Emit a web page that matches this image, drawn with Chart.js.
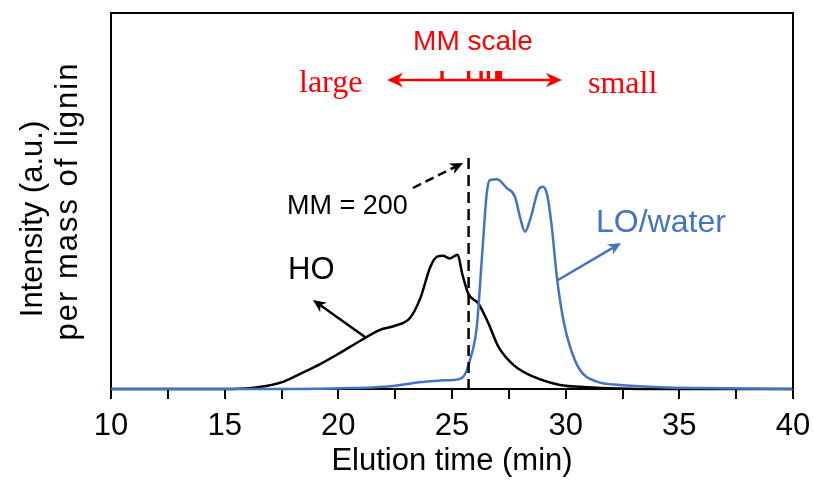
<!DOCTYPE html>
<html>
<head>
<meta charset="utf-8">
<script src="https://cdn.jsdelivr.net/npm/chart.js@4.4.1/dist/chart.umd.min.js"></script>
<style>
	body { margin: 0; background: #fff; }
	canvas { display: block; }
</style>
</head>
<body>
<canvas id="myChart" width="813" height="483"></canvas>
<script>
// HO curve (elution time min, intensity)
let hoTime = [10, 15, 16.1, 16.8, 17.6, 18.3, 19.2, 20.07, 20.95, 21.83, 22.49, 23.15, 23.6, 24.05, 24.35, 24.6, 24.9, 25.25, 25.45, 25.72, 26.16, 26.6, 27.04, 27.7, 28.58, 29.75, 30.93, 32.4, 34, 40];
let hoValue = [0, 0, 0.2, 0.8, 2.0, 4.0, 6.7, 9.7, 12.9, 15.9, 17.0, 19.1, 24.3, 32.9, 35.6, 35.8, 35.1, 36.1, 31.0, 25.6, 23.0, 17.7, 11.4, 6.5, 3.3, 1.1, 0.5, 0.15, 0, 0];

// LO/water curve
let loTime = [10, 18, 20.5, 22, 23.7, 24.5, 25.06, 25.5, 25.79, 26.09, 26.31, 26.53, 26.67, 26.97, 27.41, 27.77, 27.99, 28.21, 28.43, 28.8, 28.99, 29.17, 29.39, 29.61, 29.9, 30.19, 30.63, 31.37, 32.39, 34.15, 35.91, 40];
let loValue = [0, 0, 0.25, 0.6, 1.9, 2.3, 2.4, 3.3, 7.8, 16.7, 34.7, 52.7, 56.2, 56.4, 54.0, 51.7, 46.3, 42.3, 45.4, 53.5, 54.4, 52.6, 43.6, 30.2, 18.5, 11.4, 5.1, 2.0, 1.1, 0.5, 0.27, 0];

// MM standards on the scale, and the MM = 200 position
let mmMarkTimes = [24.56, 25.73, 26.28, 26.6, 26.97, 27.05, 27.13];
let mm200Time = 25.73;

let xTickLabels = [10, 15, 20, 25, 30, 35, 40];

const FONT = "'Liberation Sans', Arial, sans-serif";

function toPoints(xs, ys) {
	return xs.map((x, i) => ({ x: x, y: ys[i] }));
}

function drawArrow(ctx, x1, y1, x2, y2, color, dash, head) {
	const ang = Math.atan2(y2 - y1, x2 - x1);
	const len = head || 13;
	const c = Math.cos(ang), s = Math.sin(ang);
	ctx.save();
	ctx.strokeStyle = color;
	ctx.fillStyle = color;
	ctx.lineWidth = 2.5;
	ctx.setLineDash(dash || []);
	ctx.beginPath();
	ctx.moveTo(x1, y1);
	ctx.lineTo(x2 - c * len * 0.7, y2 - s * len * 0.7);
	ctx.stroke();
	ctx.setLineDash([]);
	ctx.beginPath();
	ctx.moveTo(x2, y2);
	ctx.lineTo(x2 - len * c + len * 0.45 * s, y2 - len * s - len * 0.45 * c);
	ctx.lineTo(x2 - len * 0.7 * c, y2 - len * 0.7 * s);
	ctx.lineTo(x2 - len * c - len * 0.45 * s, y2 - len * s + len * 0.45 * c);
	ctx.closePath();
	ctx.fill();
	ctx.restore();
}

function rotatedText(ctx, text, x, y) {
	ctx.save();
	ctx.translate(x, y);
	ctx.rotate(-Math.PI / 2);
	ctx.fillText(text, 0, 0);
	ctx.restore();
}

const notes = {
	id: "notes",
	afterDatasetsDraw(chart) {
		const ctx = chart.ctx;
		const a = chart.chartArea;
		const xs = chart.scales.x;

		// frame top + right
		ctx.save();
		ctx.strokeStyle = "#000";
		ctx.lineWidth = 2;
		ctx.beginPath();
		ctx.moveTo(a.left, a.top);
		ctx.lineTo(a.right, a.top);
		ctx.lineTo(a.right, a.bottom);
		ctx.stroke();

		// MM = 200 dashed line
		const xm = xs.getPixelForValue(mm200Time);
		ctx.lineWidth = 2.5;
		ctx.setLineDash([11, 6]);
		ctx.beginPath();
		ctx.moveTo(xm, 158);
		ctx.lineTo(xm, a.bottom);
		ctx.stroke();
		ctx.restore();

		drawArrow(ctx, 413, 188, 463, 163, "#000", [9, 5]);
		drawArrow(ctx, 365, 337, 313, 300, "#000");
		drawArrow(ctx, 558, 280, 621, 243, "#4472C4");

		ctx.save();
		ctx.textBaseline = "alphabetic";
		ctx.fillStyle = "#000";

		// y axis title, two lines
		ctx.textAlign = "center";
		ctx.font = "31px " + FONT;
		rotatedText(ctx, "Intensity (a.u.)", 42, 219);
		ctx.letterSpacing = "2px";
		rotatedText(ctx, "per mass of lignin", 77, 201);
		ctx.letterSpacing = "0px";
		ctx.textAlign = "left";

		ctx.font = "27px " + FONT;
		ctx.fillText("MM = 200", 287, 214);
		ctx.font = "31px " + FONT;
		ctx.fillText("HO", 288, 279);
		ctx.fillStyle = "#4472C4";
		ctx.font = "32px " + FONT;
		ctx.fillText("LO/water", 596, 232);

		// MM scale
		ctx.fillStyle = "#FF0000";
		ctx.font = "28px " + FONT;
		ctx.textAlign = "center";
		ctx.fillText("MM scale", 473, 50);
		ctx.textAlign = "left";
		ctx.font = "32px 'Liberation Serif', 'Times New Roman', serif";
		ctx.fillText("large", 299, 92);
		ctx.fillText("small", 588, 93);
		ctx.restore();

		drawArrow(ctx, 470, 80, 387, 80, "#FF0000", [], 16);
		drawArrow(ctx, 470, 80, 562, 80, "#FF0000", [], 16);
		ctx.save();
		ctx.fillStyle = "#FF0000";
		mmMarkTimes.forEach(t => {
			const px = xs.getPixelForValue(t);
			ctx.fillRect(px - 1.7, 71, 3.4, 9);
		});
		ctx.restore();
	}
};

function createChart() {
	const ctx = document.getElementById("myChart").getContext("2d");
	const myChart = new Chart(ctx, {
		type: "line",
		data: {
			datasets: [
				{
					label: "LO/water",
					data: toPoints(loTime, loValue),
					borderColor: "#4472C4",
					borderWidth: 2.5,
					pointRadius: 0,
					cubicInterpolationMode: "monotone",
					clip: 5,
				},
				{
					label: "HO",
					data: toPoints(hoTime, hoValue),
					borderColor: "#000",
					borderWidth: 2.5,
					pointRadius: 0,
					cubicInterpolationMode: "monotone",
					clip: 5,
				},
			],
		},
		options: {
			responsive: false,
			animation: false,
			layout: {
				padding: { top: 13, right: 20, left: 0, bottom: 0 },
			},
			plugins: {
				legend: { display: false },
				tooltip: { enabled: false },
			},
			scales: {
				x: {
					type: "linear",
					min: 10,
					max: 40,
					afterBuildTicks: (s) => {
						let t = [];
						for (let v = 10; v <= 40; v += 2.5) t.push({ value: v });
						s.ticks = t;
					},
					afterFit: (s) => {
						s.height = 94;
						s.paddingLeft = 0;
						s.paddingRight = 0;
					},
					ticks: {
						autoSkip: false,
						maxRotation: 0,
						padding: 9,
						color: "#000",
						font: { size: 31, family: FONT },
						callback: (v) => xTickLabels.includes(v) ? String(v) : "",
					},
					grid: {
						drawOnChartArea: false,
						color: "#000",
						lineWidth: 2,
						tickLength: 10,
					},
					border: { color: "#000", width: 2 },
					title: {
						display: true,
						text: "Elution time (min)",
						color: "#000",
						font: { size: 31, family: FONT },
						padding: { bottom: 3, top: 0 },
					},
				},
				y: {
					min: 0,
					max: 101.1,
					afterFit: (s) => { s.width = 111; },
					ticks: { display: false },
					grid: { display: false, drawTicks: false },
					border: { color: "#000", width: 2 },
				},
			},
		},
		plugins: [notes],
	});
}

createChart();
</script>
</body>
</html>
